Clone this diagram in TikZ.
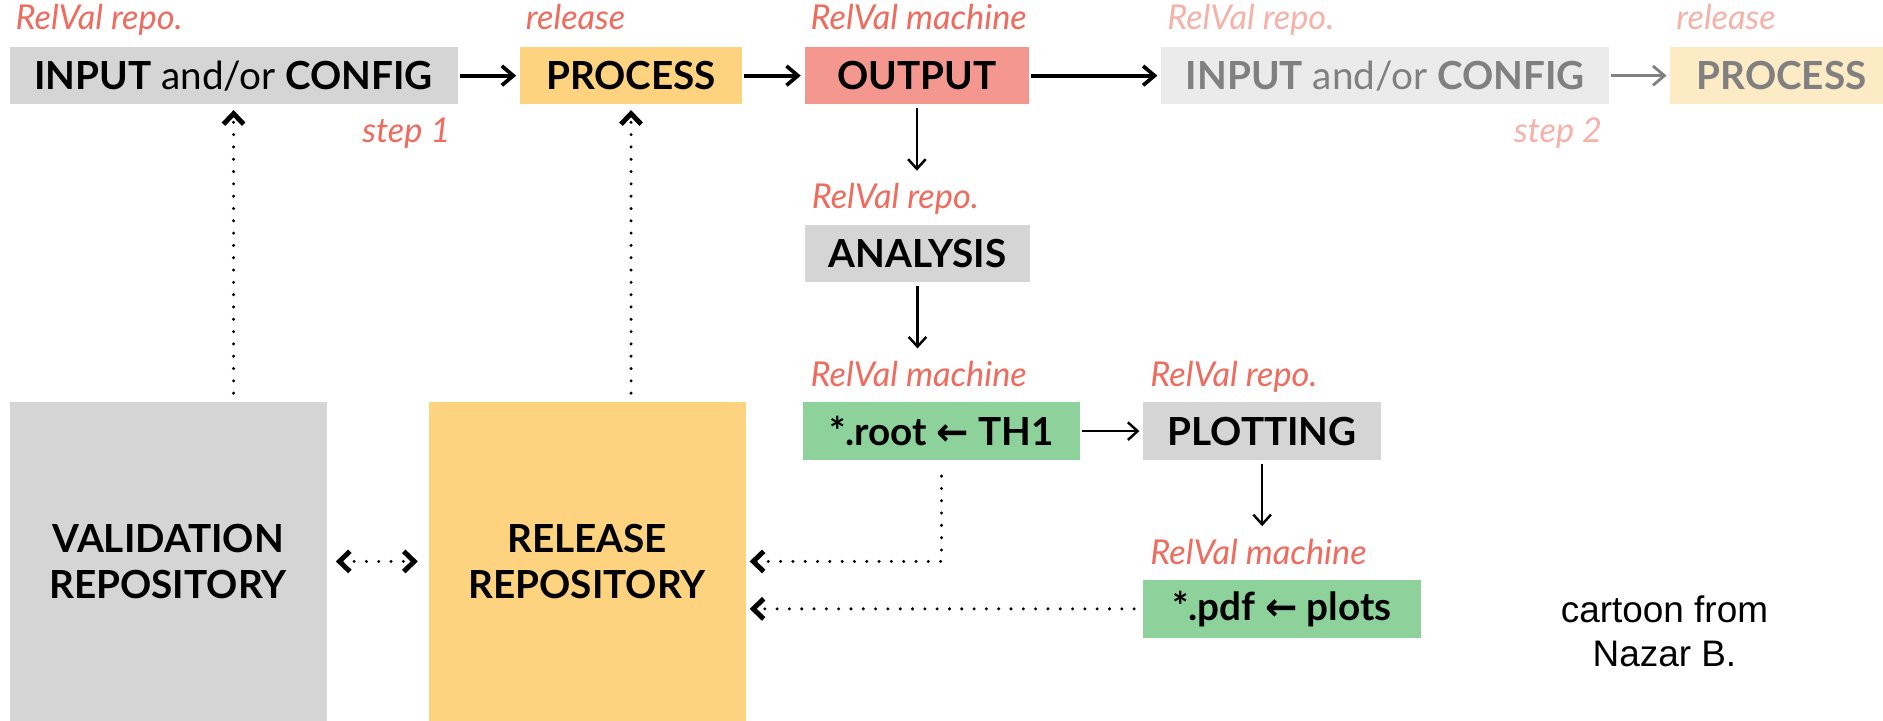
\documentclass[tikz,border=0pt]{standalone}
\usepackage{fontspec}
\setmainfont{Lato}
\newfontfamily\notefont{Liberation Sans}
\newfontfamily\arrowfont{DejaVu Sans}
\usetikzlibrary{arrows.meta}

\definecolor{boxgray}{HTML}{D5D5D5}
\definecolor{boxyellow}{HTML}{FDD37F}
\definecolor{boxsalmon}{HTML}{F4988F}
\definecolor{boxgreen}{HTML}{8ED29B}
\definecolor{relred}{HTML}{EF6B5D}
\definecolor{fadegray}{HTML}{EBEBEB}
\definecolor{fadeyellow}{HTML}{FDEBC6}
\definecolor{fadered}{HTML}{F6B1A9}
\definecolor{fadetext}{HTML}{808080}

\tikzset{dotbarb/.tip={Straight Barb[length=6pt,width=11.5pt,line width=2.8pt]}}

\begin{document}
\begin{tikzpicture}[
    stage/.style={fill=#1, minimum height=1.152cm, inner sep=0pt, font=\fontsize{22}{26}\selectfont},
    tag/.style={anchor=base west, text=relred, inner sep=0pt, font=\fontsize{19.5}{22}\selectfont\itshape},
    flow/.style={-{Straight Barb[length=6.5pt,width=11pt]}, line width=2.1pt, shorten <=1pt, shorten >=2pt},
    thin flow/.style={flow, line width=1.4pt, -{Straight Barb[length=5.5pt,width=10pt]}},
    link/.style={-{dotbarb}, line width=1.9pt, line cap=round, dash pattern=on 0pt off 7pt, shorten <=5pt, shorten >=3pt}
  ]
  \useasboundingbox (0,0) rectangle (37.632,-14.4);

  % first step
  \node[stage=boxgray, minimum width=8.952cm] (in1) at (4.668,-1.512) {\textbf{INPUT} and/or \textbf{CONFIG}};
  \node[stage=boxyellow, minimum width=4.44cm] (proc1) at (12.612,-1.512) {\textbf{PROCESS}};
  \node[stage=boxsalmon, minimum width=4.488cm] (out1) at (18.324,-1.512) {\textbf{OUTPUT}};
  \node[tag] (in1tag) at ([shift={(0.12,0.336)}]in1.north west) {RelVal repo.};
  \node[tag] (proc1tag) at ([shift={(0.12,0.336)}]proc1.north west) {release};
  \node[tag] (out1tag) at ([shift={(0.12,0.336)}]out1.north west) {RelVal machine};
  \node[tag, anchor=base east] (step1) at ([shift={(-0.144,-0.744)}]in1.south east) {step 1};

  % second step, faded
  \node[stage=fadegray, minimum width=8.952cm, text=fadetext] (in2) at (27.684,-1.512) {\textbf{INPUT} and/or \textbf{CONFIG}};
  \node[stage=fadeyellow, minimum width=4.44cm, text=fadetext] (proc2) at (35.604,-1.512) {\textbf{PROCESS}};
  \node[tag, text=fadered] (in2tag) at ([shift={(0.12,0.336)}]in2.north west) {RelVal repo.};
  \node[tag, text=fadered] (proc2tag) at ([shift={(0.12,0.336)}]proc2.north west) {release};
  \node[tag, anchor=base east, text=fadered] (step2) at ([shift={(-0.144,-0.744)}]in2.south east) {step 2};

  % validation chain
  \node[stage=boxgray, minimum width=4.512cm] (ana) at (18.336,-5.064) {\textbf{ANALYSIS}};
  \node[stage=boxgreen, minimum width=5.52cm] (root) at (18.816,-8.616) {\textbf{*.root {\arrowfont ←} TH1}};
  \node[stage=boxgray, minimum width=4.752cm] (plot) at (25.224,-8.616) {\textbf{PLOTTING}};
  \node[stage=boxgreen, minimum width=5.544cm] (pdf) at (25.62,-12.168) {\textbf{*.pdf {\arrowfont ←} plots}};
  \node[tag] (anatag) at ([shift={(0.144,0.312)}]ana.north west) {RelVal repo.};
  \node[tag] (roottag) at ([shift={(0.144,0.312)}]root.north west) {RelVal machine};
  \node[tag] (plottag) at ([shift={(0.144,0.312)}]plot.north west) {RelVal repo.};
  \node[tag] (pdftag) at ([shift={(0.144,0.312)}]pdf.north west) {RelVal machine};

  % repositories
  \node[stage=boxgray, minimum width=6.336cm, minimum height=6.36cm, align=center] (valid) at (3.36,-11.22) {\textbf{VALIDATION}\\\textbf{REPOSITORY}};
  \node[stage=boxyellow, minimum width=6.336cm, minimum height=6.36cm, align=center] (rel) at (11.736,-11.22) {\textbf{RELEASE}\\\textbf{REPOSITORY}};

  \node[font=\notefont\fontsize{21}{25}\selectfont, align=center] (note) at (33.264,-12.62) {cartoon from\\Nazar B.};

  \draw[flow] (in1) -- (proc1);
  \draw[flow] (proc1) -- (out1);
  \draw[flow] (out1) -- (in2);
  \draw[flow, fadetext, line width=1.6pt] (in2) -- (proc2);
  \draw[thin flow, shorten <=2pt, shorten >=7pt] (out1) -- (out1 |- anatag.north);
  \draw[thin flow, shorten <=2pt, shorten >=7pt] (ana) -- (ana |- roottag.north);
  \draw[thin flow] (root) -- (plot);
  \draw[thin flow, shorten <=2pt, shorten >=7pt] (plot) -- (plot |- pdftag.north);

  \draw[link] (valid.north -| in1.south) -- (in1.south);
  \draw[link] (rel.north -| proc1.south) -- (proc1.south);
  \draw[link, {dotbarb}-{dotbarb}, shorten <=5pt, shorten >=6pt] (valid) -- (rel);
  \draw[link, shorten <=9pt, shorten >=2pt] (root.south) |- (rel.east);
  \draw[link, shorten <=5pt, shorten >=2pt] (pdf.west) -- (pdf.west -| rel.east);
\end{tikzpicture}
\end{document}
